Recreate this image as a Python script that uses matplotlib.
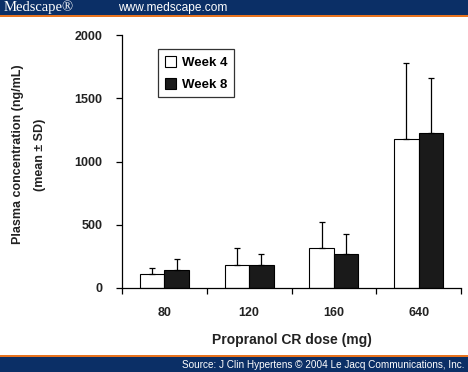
import numpy as np
import matplotlib.pyplot as plt
from matplotlib.patches import Rectangle

plt.rcParams['font.family'] = ['Liberation Sans', 'DejaVu Sans']

# ---- Data ------------------------------------------------------------
doses = ['80', '120', '160', '640']
week4_mean = [110, 180, 315, 1175]
week4_sd = [45, 135, 205, 600]
week8_mean = [142, 180, 268, 1222]
week8_sd = [85, 88, 156, 435]
series_labels = ['Week 4', 'Week 8']

NAVY = '#0b2f66'
ORANGE = '#e8731e'

fig = plt.figure(figsize=(4.68, 3.72), dpi=100)
fig.patch.set_facecolor('white')

# header / footer bands
fig.add_artist(Rectangle((0, 1 - 15 / 372), 1, 15 / 372, transform=fig.transFigure,
                         facecolor=NAVY, edgecolor='none'))
fig.add_artist(Rectangle((0, 1 - 17 / 372), 1, 2 / 372, transform=fig.transFigure,
                         facecolor=ORANGE, edgecolor='none'))
fig.add_artist(Rectangle((0, 0), 1, 15 / 372, transform=fig.transFigure,
                         facecolor=NAVY, edgecolor='none'))
fig.add_artist(Rectangle((0, 15 / 372), 1, 2 / 372, transform=fig.transFigure,
                         facecolor=ORANGE, edgecolor='none'))
fig.text(4 / 468, 1 - 7.5 / 372, 'Medscape\u00ae', color='white', fontsize=10.5,
         family=['Liberation Serif', 'DejaVu Serif'], va='center', ha='left')
fig.text(118 / 468, 1 - 7.5 / 372, 'www.medscape.com', color='white', fontsize=8.6,
         va='center', ha='left')
fig.text(465 / 468, 7.5 / 372,
         'Source: J Clin Hypertens \u00a9 2004 Le Jacq Communications, Inc.',
         color='white', fontsize=7.2, va='center', ha='right')

# ---- Axes ------------------------------------------------------------
ax = fig.add_axes([122 / 468, 84 / 372, 339 / 468, 253 / 372])
x = np.arange(len(doses))
w = 0.29
ekw = dict(lw=0.9, capsize=2.5, capthick=0.9, ecolor='black')
ax.bar(x - w / 2, week4_mean, w, color='white', edgecolor='black', lw=0.8,
       yerr=[np.zeros(4), week4_sd], error_kw=ekw, label=series_labels[0], zorder=2)
ax.bar(x + w / 2, week8_mean, w, color='#1a1a1a', edgecolor='black', lw=0.8,
       yerr=[np.zeros(4), week8_sd], error_kw=ekw, label=series_labels[1], zorder=2)

ax.set_xlim(-0.5, 3.5)
ax.set_ylim(0, 2000)
ax.set_yticks([0, 500, 1000, 1500, 2000])
ax.set_xticks(np.arange(-0.5, 4, 1.0))
ax.set_xticklabels([])
ax.set_xticks(x, minor=True)
ax.set_xticklabels(doses, minor=True)
ax.tick_params(axis='x', which='minor', length=0, pad=14)
ax.tick_params(axis='x', which='major', length=4, width=0.9, direction='out')
ax.tick_params(axis='y', which='major', length=4, width=0.9, direction='out', pad=10)
for lab in ax.get_xticklabels(minor=True) + ax.get_yticklabels():
    lab.set_fontweight('bold')
    lab.set_fontsize(9)
    lab.set_color('#222222')
ax.spines['top'].set_visible(False)
ax.spines['right'].set_visible(False)
for s in ('left', 'bottom'):
    ax.spines[s].set_linewidth(0.9)

ax.set_xlabel('Propranol CR dose (mg)', fontsize=10, fontweight='bold',
              color='#222222', labelpad=10)
fig.text(18 / 468, 1 - 154 / 372, 'Plasma concentration (ng/mL)', rotation=90,
         fontsize=9, fontweight='bold', color='#222222', ha='center', va='center')
fig.text(40 / 468, 1 - 155 / 372, '(mean \u00b1 SD)', rotation=90,
         fontsize=9, fontweight='bold', color='#222222', ha='center', va='center')

leg = ax.legend(loc='upper left', bbox_to_anchor=(36 / 339, 1 - 14 / 253),
                frameon=True, fancybox=False, edgecolor='black',
                prop={'weight': 'bold', 'size': 9.5}, handlelength=0.9,
                handleheight=0.9, handletextpad=0.4, borderpad=0.5,
                labelspacing=0.7, borderaxespad=0)
leg.get_frame().set_linewidth(0.9)

fig.savefig('out.png', dpi=100)
